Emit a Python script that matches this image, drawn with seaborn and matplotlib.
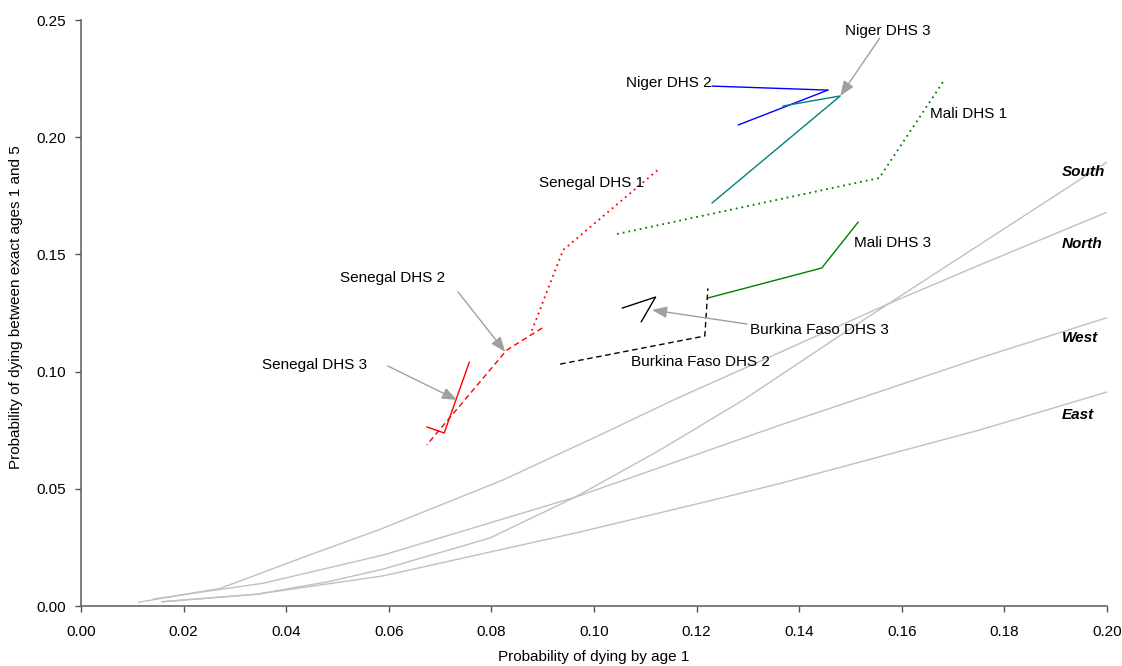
import matplotlib
matplotlib.use("Agg")
import matplotlib.pyplot as plt
import seaborn as sns

# ---- Coale-Demeny regional model patterns: q(1) vs 4q1 ----
south_q1 = [0.0157, 0.0342, 0.0485, 0.059, 0.0797, 0.0963, 0.1129, 0.1291, 0.1516, 0.200]
south_q4 = [0.0018, 0.0050, 0.0105, 0.0158, 0.0290, 0.0464, 0.0666, 0.0879, 0.1207, 0.1894]
north_q1 = [0.0112, 0.0271, 0.0446, 0.0583, 0.0823, 0.1012, 0.1155, 0.158, 0.1752, 0.200]
north_q4 = [0.0016, 0.0075, 0.0218, 0.0327, 0.0538, 0.0730, 0.0879, 0.1295, 0.1455, 0.168]
west_q1 = [0.0141, 0.0355, 0.059, 0.0963, 0.107, 0.1363, 0.1752, 0.200]
west_q4 = [0.0030, 0.0097, 0.0218, 0.0464, 0.0546, 0.0772, 0.1058, 0.123]
east_q1 = [0.0157, 0.0342, 0.059, 0.0973, 0.1232, 0.1363, 0.1752, 0.200]
east_q4 = [0.0018, 0.0050, 0.0129, 0.0316, 0.0452, 0.0523, 0.0751, 0.0913]

# ---- DHS survey estimates ----
niger2_q1 = [0.1281, 0.1456]
niger2_q4 = [0.2052, 0.2201]
niger3_q1 = [0.1230, 0.1480, 0.1368]
niger3_q4 = [0.1719, 0.2176, 0.2133]
mali1_q1 = [0.1045, 0.1556, 0.1684]
mali1_q4 = [0.1587, 0.1826, 0.2248]
mali3_q1 = [0.1222, 0.1444, 0.1515]
mali3_q4 = [0.1314, 0.1442, 0.1638]
senegal1_q1 = [0.0879, 0.0915, 0.0940, 0.1129]
senegal1_q4 = [0.1175, 0.1380, 0.1519, 0.1869]
senegal2_q1 = [0.0899, 0.0830, 0.0674]
senegal2_q4 = [0.1186, 0.1092, 0.0687]
senegal3_q1 = [0.0674, 0.0708, 0.0757]
senegal3_q4 = [0.0764, 0.0738, 0.1041]
burkina2_q1 = [0.0934, 0.1216, 0.1222]
burkina2_q4 = [0.1032, 0.1152, 0.1355]
burkina3_q1 = [0.1055, 0.1120, 0.1092]
burkina3_q4 = [0.1271, 0.1318, 0.1212]

x_ticks = [0.00, 0.02, 0.04, 0.06, 0.08, 0.10, 0.12, 0.14, 0.16, 0.18, 0.20]
y_ticks = [0.00, 0.05, 0.10, 0.15, 0.20, 0.25]

sns.set_style("ticks")
plt.rcParams["font.family"] = ["Liberation Sans", "DejaVu Sans"]
plt.rcParams["text.color"] = "black"
plt.rcParams["axes.labelcolor"] = "black"
plt.rcParams["xtick.color"] = "black"
plt.rcParams["ytick.color"] = "black"

fig = plt.figure(figsize=(11.22, 6.66), dpi=100)
ax = fig.add_axes([81 / 1122, 60 / 666, (1107 - 81) / 1122, (606 - 20) / 666])

grey = "#c0c0c0"
for xs, ys in [(south_q1, south_q4), (north_q1, north_q4), (west_q1, west_q4), (east_q1, east_q4)]:
    sns.lineplot(x=xs, y=ys, ax=ax, sort=False, estimator=None, color=grey, linewidth=1.0)

dot = (0, (1, 2.2))
dash = (0, (4, 2.6))
series = [
    (niger2_q1, niger2_q4, "#0000ff", "-", 1.0),
    (niger3_q1, niger3_q4, "#008080", "-", 1.0),
    (mali1_q1, mali1_q4, "#008000", dot, 1.3),
    (mali3_q1, mali3_q4, "#008000", "-", 1.0),
    (senegal1_q1, senegal1_q4, "#ff0000", dot, 1.3),
    (senegal2_q1, senegal2_q4, "#ff0000", dash, 1.0),
    (senegal3_q1, senegal3_q4, "#ff0000", "-", 1.0),
    (burkina2_q1, burkina2_q4, "#000000", dash, 1.0),
    (burkina3_q1, burkina3_q4, "#000000", "-", 1.0),
]
for xs, ys, c, ls, lw in series:
    sns.lineplot(x=xs, y=ys, ax=ax, sort=False, estimator=None, color=c,
                 linestyle=ls, linewidth=lw)

fs = 11
arrow = dict(arrowstyle="-|>,head_length=0.9,head_width=0.35", color="#a0a0a0",
             lw=1.0, shrinkA=0, shrinkB=0)

# labels
ax.text(0.1573, 0.2453, "Niger DHS 3", ha="center", va="center", fontsize=fs)
ax.text(0.1229, 0.2230, "Niger DHS 2", ha="right", va="center", fontsize=fs)
ax.text(0.1655, 0.2099, "Mali DHS 1", ha="left", va="center", fontsize=fs)
ax.text(0.0996, 0.1805, "Senegal DHS 1", ha="center", va="center", fontsize=fs)
ax.text(0.0608, 0.1399, "Senegal DHS 2", ha="center", va="center", fontsize=fs)
ax.text(0.0456, 0.1028, "Senegal DHS 3", ha="center", va="center", fontsize=fs)
ax.text(0.1507, 0.1549, "Mali DHS 3", ha="left", va="center", fontsize=fs)
ax.text(0.1304, 0.1177, "Burkina Faso DHS 3", ha="left", va="center", fontsize=fs)
ax.text(0.1072, 0.1041, "Burkina Faso DHS 2", ha="left", va="center", fontsize=fs)

for name, yv in [("South", 0.1852), ("North", 0.1544), ("West", 0.1143), ("East", 0.0815)]:
    ax.text(0.1912, yv, name, ha="left", va="center", fontsize=fs,
            fontweight="bold", fontstyle="italic")

# leader line and arrows
ax.annotate("", xy=(0.1456, 0.2201), xytext=(0.1230, 0.2218),
            arrowprops=dict(arrowstyle="-", color="#0000ff", lw=1.0, shrinkA=0, shrinkB=0))
ax.annotate("", xy=(0.1480, 0.2176), xytext=(0.1557, 0.2423), arrowprops=arrow)
ax.annotate("", xy=(0.0827, 0.1084), xytext=(0.0735, 0.1340), arrowprops=arrow)
ax.annotate("", xy=(0.0733, 0.0879), xytext=(0.0598, 0.1024), arrowprops=arrow)
ax.annotate("", xy=(0.1113, 0.1263), xytext=(0.1298, 0.1203), arrowprops=arrow)

ax.set_xlim(0, 0.20)
ax.set_ylim(0, 0.25)
ax.set_xticks(x_ticks)
ax.set_yticks(y_ticks)
ax.set_xticklabels([f"{v:.2f}" for v in x_ticks], fontsize=fs)
ax.set_yticklabels([f"{v:.2f}" for v in y_ticks], fontsize=fs)
ax.tick_params(direction="out", length=4, width=1, color="#555555")
ax.tick_params(axis="x", pad=10)
ax.tick_params(axis="y", pad=7)
sns.despine(ax=ax)
for s in ["left", "bottom"]:
    ax.spines[s].set_color("#666666")
    ax.spines[s].set_linewidth(1.2)

ax.set_xlabel("Probability of dying by age 1", fontsize=fs)
ax.xaxis.set_label_coords(0.5, -0.075)
ax.set_ylabel("Probability of dying between exact ages 1 and 5", fontsize=fs)
ax.yaxis.set_label_coords(-0.057, 0.51)

fig.savefig("out.png", dpi=100)
